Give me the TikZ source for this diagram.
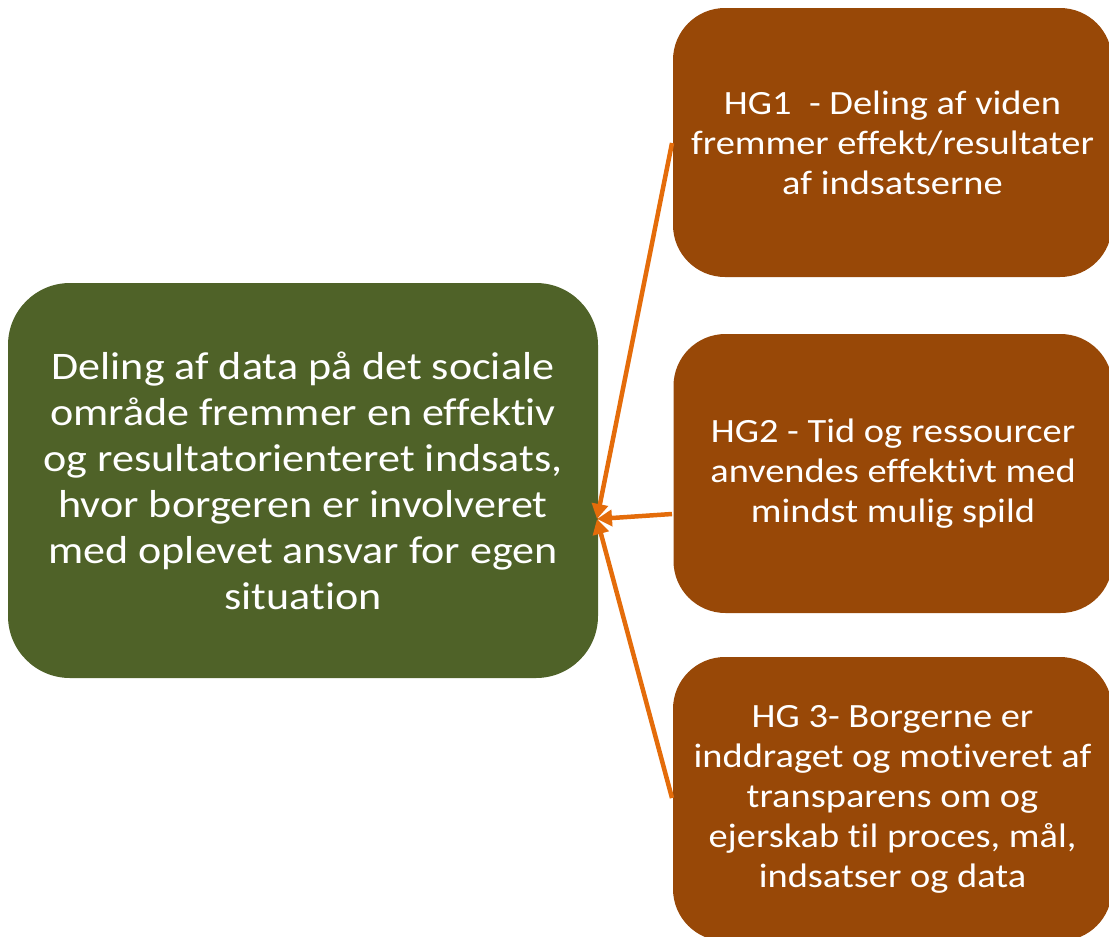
\documentclass[tikz,border=0pt]{standalone}
\usepackage{fontspec}
\setmainfont{Carlito}[FakeStretch=1.13, Ligatures=NoCommon]
\usetikzlibrary{arrows.meta}
\definecolor{mainGreen}{RGB}{79,98,40}
\definecolor{hgBrown}{RGB}{152,72,7}
\definecolor{arrowOrange}{RGB}{228,108,10}
\tikzset{
  mainbox/.style={rectangle, rounded corners=62pt, fill=mainGreen, text=white, align=center,
    minimum width=590pt, minimum height=395pt, inner sep=0pt,
    font=\fontsize{39}{46}\selectfont},
  hgbox/.style={rectangle, rounded corners=52pt, fill=hgBrown, text=white, align=center,
    minimum width=439pt, inner sep=0pt,
    font=\fontsize{34}{40}\selectfont},
  conn/.style={draw=arrowOrange, line width=4.5pt, -{Triangle[length=15pt,width=16pt]}}
}
\begin{document}
\begin{tikzpicture}[x=1pt,y=-1pt]
\useasboundingbox (0,0) rectangle (1109,937);
\clip (0,0) rectangle (1109,937);
\node[mainbox] (g) at (303,480.5) {Deling af data på det sociale\\område fremmer en effektiv\\og resultatorienteret indsats,\\hvor borgeren er involveret\\med oplevet ansvar for egen\\situation};
\node[hgbox, minimum height=269pt] (b1) at (892.5,142.5) {HG1\ \ - Deling af viden\\fremmer effekt/resultater\\af indsatserne};
\node[hgbox, minimum height=279pt] (b2) at (893,473.5) {HG2 - Tid og ressourcer\\anvendes effektivt med\\mindst mulig spild};
\node[hgbox, minimum height=284pt] (b3) at (892.5,799) {HG 3- Borgerne er\\inddraget og motiveret af\\transparens om og\\ejerskab til proces, mål,\\indsatser og data};
\coordinate (t) at (597,519);
\coordinate (s1) at (672,143);
\coordinate (s2) at (672,514);
\coordinate (s3) at (672,798);
\draw[conn] (s1) -- (t);
\draw[conn] (s2) -- (t);
\draw[conn] (s3) -- (t);
\end{tikzpicture}
\end{document}
